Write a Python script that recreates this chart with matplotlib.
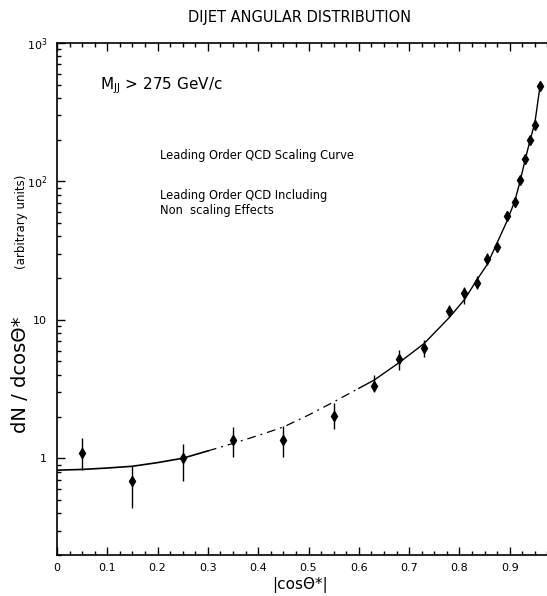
import matplotlib
matplotlib.use('Agg')
import matplotlib.pyplot as plt
from matplotlib.ticker import MultipleLocator, FixedLocator, FixedFormatter, LogLocator, NullFormatter

# Pontos medidos (|cos theta*|, dN/dcos)
xs = [0.05, 0.15, 0.25, 0.35, 0.45, 0.55, 0.63, 0.68, 0.73, 0.78, 0.81,
      0.835, 0.855, 0.875, 0.895, 0.91, 0.92, 0.93, 0.94, 0.95, 0.96]
ys = [1.09, 0.685, 1.00, 1.35, 1.35, 2.01, 3.33, 5.17, 6.28, 11.6, 15.7,
      18.3, 27.3, 33.4, 56.2, 71.0, 102.0, 144.0, 199.0, 256.0, 490.0]
err_baixo = [0.27, 0.245, 0.31, 0.33, 0.33, 0.37, 0.30, 0.84, 0.88, 1.0, 2.6,
             1.7, 2.4, 2.5, 4.5, 6.0, 7.0, 10.0, 13.0, 17.0, 30.0]
err_cima = [0.30, 0.19, 0.26, 0.32, 0.35, 0.48, 0.65, 0.93, 0.85, 1.2, 1.6,
            2.4, 2.9, 2.5, 4.5, 6.0, 7.0, 10.0, 13.0, 17.0, 30.0]

# Curva QCD
curva_x = [0.0, 0.05, 0.10, 0.15, 0.20, 0.25, 0.30, 0.35, 0.40, 0.45, 0.50,
           0.55, 0.60, 0.63, 0.68, 0.73, 0.78, 0.81, 0.835, 0.855, 0.875,
           0.895, 0.91, 0.92, 0.93, 0.94, 0.95, 0.96]
curva_y = [0.82, 0.83, 0.85, 0.875, 0.93, 1.0, 1.13, 1.28, 1.46, 1.68, 2.05,
           2.55, 3.2, 3.66, 4.9, 6.75, 10.4, 14.0, 19.5, 25.0, 36.0,
           52.0, 72.0, 98.0, 140.0, 195.0, 265.0, 480.0]

ytick_vals = [1, 10, 100, 1000]
ytick_txt = ['1', '10', r'10$^2$', r'10$^3$']
xtick_vals = [0, 0.1, 0.2, 0.3, 0.4, 0.5, 0.6, 0.7, 0.8, 0.9]
xtick_txt = ['0', '0.1', '0.2', '0.3', '0.4', '0.5', '0.6', '0.7', '0.8', '0.9']

fig = plt.figure(figsize=(5.47, 5.96), dpi=100)
ax = fig.add_axes([0.1042, 0.0688, 0.9196, 0.8591])

# curva: trecho continuo, trecho falhado, trecho continuo
n1 = curva_x.index(0.25) + 1
n2 = curva_x.index(0.60)
ax.plot(curva_x[:n1 + 1], curva_y[:n1 + 1], color='black', lw=1.2)
ax.plot(curva_x[n1:n2 + 1], curva_y[n1:n2 + 1], color='black', lw=0.9,
        linestyle=(0, (7, 4, 1.5, 4)))
ax.plot(curva_x[n2:], curva_y[n2:], color='black', lw=1.0)

ax.errorbar(xs, ys, yerr=[err_baixo, err_cima], fmt='d', color='black',
            markersize=5.5, elinewidth=1.0, capsize=0)

ax.set_yscale('log')
ax.set_xlim(0, 1.0)
ax.set_ylim(0.2, 1000)

ax.xaxis.set_major_locator(FixedLocator(xtick_vals))
ax.xaxis.set_major_formatter(FixedFormatter(xtick_txt))
ax.xaxis.set_minor_locator(MultipleLocator(0.025))
ax.yaxis.set_major_locator(FixedLocator(ytick_vals))
ax.yaxis.set_major_formatter(FixedFormatter(ytick_txt))
ax.yaxis.set_minor_locator(LogLocator(base=10, subs=range(2, 10)))
ax.yaxis.set_minor_formatter(NullFormatter())

ax.tick_params(which='both', direction='in', top=True, right=False, width=1.0)
ax.tick_params(which='major', length=6, labelsize=8)
ax.tick_params(which='minor', length=3)
ax.tick_params(axis='y', pad=7)
ax.tick_params(axis='x', pad=6)
for s in ['left', 'bottom', 'top']:
    ax.spines[s].set_linewidth(1.2)
ax.spines['right'].set_visible(False)

ax.text(0.085, 0.916, r'M$_{\mathrm{JJ}}$ > 275 GeV/c', transform=ax.transAxes,
        fontsize=11, va='center')
ax.text(0.205, 0.781, 'Leading Order QCD Scaling Curve', transform=ax.transAxes,
        fontsize=8.3, va='center')
ax.text(0.205, 0.703, 'Leading Order QCD Including', transform=ax.transAxes,
        fontsize=8.3, va='center')
ax.text(0.205, 0.672, 'Non  scaling Effects', transform=ax.transAxes,
        fontsize=8.3, va='center')

fig.text(0.548, 0.970, 'DIJET ANGULAR DISTRIBUTION', ha='center', va='center',
         fontsize=10.5)
fig.text(0.548, 0.018, '|cos\u0398*|', ha='center', va='center', fontsize=11)
fig.text(0.038, 1 - 375 / 596, 'dN / dcos\u0398*', rotation=90, ha='center',
         va='center', fontsize=14)
fig.text(0.040, 1 - 222 / 596, '(arbitrary units)', rotation=90, ha='center',
         va='center', fontsize=8.5)

fig.savefig('out.png', dpi=100)
